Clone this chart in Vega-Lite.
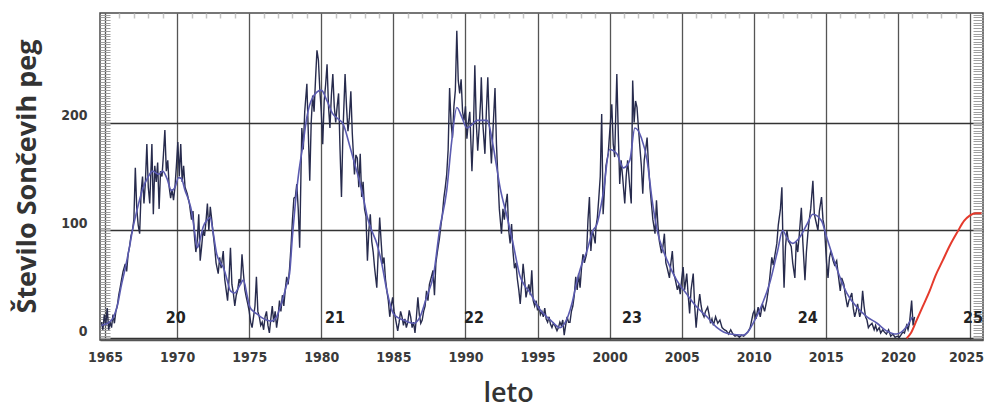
{
"$schema":"https://vega.github.io/schema/vega-lite/v6.json",
"width":883,"height":327,
"autosize":"none",
"padding":{"left":100,"top":13,"right":3,"bottom":68},
"background":"white",
"config":{"view":{"stroke":"#4a4a4a","strokeWidth":1.5}},
"resolve":{"axis":{"x":"independent","y":"independent"}},
"layer":[
{"data":{"values":[
{"year":1964.75,"value":15},{"year":1964.85,"value":8},{"year":1964.95,"value":22},{"year":1965.05,"value":12},{"year":1965.15,"value":28},{"year":1965.25,"value":8},{"year":1965.35,"value":15},{"year":1965.45,"value":10},{"year":1965.55,"value":22},{"year":1965.65,"value":14},{"year":1965.75,"value":25},{"year":1965.85,"value":30},{"year":1965.95,"value":40},{"year":1966.05,"value":47},{"year":1966.15,"value":55},{"year":1966.25,"value":62},{"year":1966.4,"value":69},{"year":1966.5,"value":62},{"year":1966.6,"value":78},{"year":1966.7,"value":85},{"year":1966.8,"value":95},{"year":1966.9,"value":100},{"year":1967.0,"value":110},{"year":1967.1,"value":158},{"year":1967.2,"value":120},{"year":1967.3,"value":105},{"year":1967.4,"value":97},{"year":1967.5,"value":135},{"year":1967.6,"value":150},{"year":1967.7,"value":125},{"year":1967.8,"value":145},{"year":1967.9,"value":180},{"year":1968.0,"value":140},{"year":1968.1,"value":125},{"year":1968.25,"value":180},{"year":1968.35,"value":115},{"year":1968.45,"value":160},{"year":1968.55,"value":145},{"year":1968.65,"value":163},{"year":1968.75,"value":120},{"year":1968.85,"value":155},{"year":1968.95,"value":150},{"year":1969.05,"value":170},{"year":1969.15,"value":193},{"year":1969.25,"value":155},{"year":1969.35,"value":165},{"year":1969.45,"value":140},{"year":1969.55,"value":130},{"year":1969.65,"value":138},{"year":1969.75,"value":128},{"year":1969.85,"value":140},{"year":1969.95,"value":160},{"year":1970.05,"value":182},{"year":1970.15,"value":150},{"year":1970.25,"value":180},{"year":1970.35,"value":145},{"year":1970.45,"value":160},{"year":1970.55,"value":140},{"year":1970.7,"value":134},{"year":1970.85,"value":125},{"year":1971.0,"value":110},{"year":1971.1,"value":118},{"year":1971.2,"value":95},{"year":1971.3,"value":80},{"year":1971.4,"value":91},{"year":1971.5,"value":115},{"year":1971.6,"value":72},{"year":1971.7,"value":85},{"year":1971.8,"value":100},{"year":1971.9,"value":95},{"year":1972.0,"value":108},{"year":1972.1,"value":125},{"year":1972.2,"value":100},{"year":1972.3,"value":122},{"year":1972.4,"value":110},{"year":1972.5,"value":97},{"year":1972.6,"value":85},{"year":1972.7,"value":70},{"year":1972.85,"value":60},{"year":1972.95,"value":75},{"year":1973.05,"value":65},{"year":1973.2,"value":81},{"year":1973.3,"value":55},{"year":1973.4,"value":45},{"year":1973.5,"value":35},{"year":1973.6,"value":55},{"year":1973.7,"value":84},{"year":1973.8,"value":50},{"year":1973.9,"value":42},{"year":1974.0,"value":30},{"year":1974.1,"value":40},{"year":1974.2,"value":45},{"year":1974.3,"value":55},{"year":1974.4,"value":50},{"year":1974.5,"value":78},{"year":1974.6,"value":60},{"year":1974.7,"value":45},{"year":1974.8,"value":38},{"year":1974.9,"value":32},{"year":1975.0,"value":25},{"year":1975.1,"value":15},{"year":1975.2,"value":10},{"year":1975.3,"value":20},{"year":1975.4,"value":30},{"year":1975.5,"value":57},{"year":1975.6,"value":25},{"year":1975.7,"value":20},{"year":1975.8,"value":12},{"year":1975.9,"value":15},{"year":1976.0,"value":8},{"year":1976.1,"value":20},{"year":1976.2,"value":25},{"year":1976.3,"value":12},{"year":1976.4,"value":5},{"year":1976.5,"value":18},{"year":1976.6,"value":30},{"year":1976.7,"value":15},{"year":1976.8,"value":25},{"year":1976.9,"value":10},{"year":1977.0,"value":20},{"year":1977.1,"value":35},{"year":1977.2,"value":25},{"year":1977.3,"value":40},{"year":1977.4,"value":30},{"year":1977.5,"value":45},{"year":1977.6,"value":57},{"year":1977.7,"value":50},{"year":1977.8,"value":65},{"year":1977.9,"value":85},{"year":1978.0,"value":110},{"year":1978.1,"value":130},{"year":1978.2,"value":131},{"year":1978.3,"value":143},{"year":1978.4,"value":120},{"year":1978.5,"value":84},{"year":1978.6,"value":160},{"year":1978.65,"value":195},{"year":1978.75,"value":175},{"year":1978.85,"value":210},{"year":1979.0,"value":236},{"year":1979.1,"value":190},{"year":1979.2,"value":146},{"year":1979.3,"value":200},{"year":1979.4,"value":225},{"year":1979.5,"value":210},{"year":1979.6,"value":240},{"year":1979.7,"value":267},{"year":1979.8,"value":258},{"year":1979.9,"value":230},{"year":1980.0,"value":210},{"year":1980.1,"value":180},{"year":1980.2,"value":220},{"year":1980.3,"value":235},{"year":1980.4,"value":254},{"year":1980.5,"value":215},{"year":1980.6,"value":195},{"year":1980.7,"value":225},{"year":1980.8,"value":245},{"year":1980.9,"value":215},{"year":1981.0,"value":200},{"year":1981.1,"value":215},{"year":1981.2,"value":227},{"year":1981.3,"value":175},{"year":1981.4,"value":131},{"year":1981.5,"value":190},{"year":1981.65,"value":245},{"year":1981.75,"value":215},{"year":1981.85,"value":192},{"year":1981.95,"value":205},{"year":1982.05,"value":229},{"year":1982.15,"value":190},{"year":1982.3,"value":152},{"year":1982.4,"value":170},{"year":1982.5,"value":167},{"year":1982.6,"value":140},{"year":1982.7,"value":171},{"year":1982.8,"value":131},{"year":1982.9,"value":145},{"year":1983.0,"value":120},{"year":1983.1,"value":113},{"year":1983.2,"value":72},{"year":1983.3,"value":100},{"year":1983.4,"value":115},{"year":1983.5,"value":90},{"year":1983.6,"value":80},{"year":1983.7,"value":65},{"year":1983.85,"value":47},{"year":1983.95,"value":80},{"year":1984.05,"value":112},{"year":1984.15,"value":90},{"year":1984.25,"value":69},{"year":1984.35,"value":75},{"year":1984.45,"value":55},{"year":1984.55,"value":44},{"year":1984.65,"value":35},{"year":1984.75,"value":20},{"year":1984.85,"value":30},{"year":1984.95,"value":38},{"year":1985.05,"value":25},{"year":1985.15,"value":18},{"year":1985.3,"value":7},{"year":1985.4,"value":15},{"year":1985.5,"value":25},{"year":1985.6,"value":20},{"year":1985.7,"value":12},{"year":1985.8,"value":18},{"year":1985.9,"value":10},{"year":1986.0,"value":15},{"year":1986.1,"value":26},{"year":1986.2,"value":20},{"year":1986.3,"value":10},{"year":1986.4,"value":15},{"year":1986.5,"value":5},{"year":1986.6,"value":20},{"year":1986.7,"value":38},{"year":1986.8,"value":22},{"year":1986.9,"value":14},{"year":1987.0,"value":17},{"year":1987.1,"value":25},{"year":1987.2,"value":30},{"year":1987.3,"value":44},{"year":1987.4,"value":35},{"year":1987.5,"value":50},{"year":1987.6,"value":55},{"year":1987.75,"value":63},{"year":1987.85,"value":40},{"year":1987.95,"value":70},{"year":1988.05,"value":80},{"year":1988.2,"value":93},{"year":1988.3,"value":105},{"year":1988.4,"value":115},{"year":1988.5,"value":130},{"year":1988.6,"value":140},{"year":1988.7,"value":152},{"year":1988.8,"value":175},{"year":1988.9,"value":232},{"year":1989.0,"value":200},{"year":1989.1,"value":186},{"year":1989.2,"value":215},{"year":1989.3,"value":230},{"year":1989.4,"value":285},{"year":1989.5,"value":239},{"year":1989.6,"value":227},{"year":1989.7,"value":240},{"year":1989.8,"value":210},{"year":1989.9,"value":202},{"year":1990.0,"value":215},{"year":1990.1,"value":185},{"year":1990.2,"value":200},{"year":1990.3,"value":210},{"year":1990.45,"value":155},{"year":1990.55,"value":190},{"year":1990.65,"value":253},{"year":1990.75,"value":200},{"year":1990.85,"value":174},{"year":1990.95,"value":195},{"year":1991.05,"value":220},{"year":1991.1,"value":242},{"year":1991.2,"value":200},{"year":1991.35,"value":171},{"year":1991.45,"value":210},{"year":1991.55,"value":242},{"year":1991.65,"value":200},{"year":1991.8,"value":162},{"year":1991.9,"value":190},{"year":1992.05,"value":232},{"year":1992.15,"value":180},{"year":1992.25,"value":149},{"year":1992.35,"value":120},{"year":1992.5,"value":97},{"year":1992.6,"value":120},{"year":1992.7,"value":110},{"year":1992.8,"value":125},{"year":1992.9,"value":134},{"year":1993.0,"value":100},{"year":1993.1,"value":88},{"year":1993.2,"value":106},{"year":1993.3,"value":80},{"year":1993.4,"value":65},{"year":1993.5,"value":70},{"year":1993.6,"value":55},{"year":1993.7,"value":45},{"year":1993.8,"value":32},{"year":1993.9,"value":50},{"year":1994.0,"value":69},{"year":1994.1,"value":55},{"year":1994.2,"value":38},{"year":1994.3,"value":45},{"year":1994.4,"value":50},{"year":1994.5,"value":40},{"year":1994.6,"value":63},{"year":1994.7,"value":35},{"year":1994.8,"value":30},{"year":1994.9,"value":35},{"year":1995.0,"value":26},{"year":1995.1,"value":30},{"year":1995.2,"value":22},{"year":1995.3,"value":25},{"year":1995.4,"value":20},{"year":1995.5,"value":28},{"year":1995.6,"value":18},{"year":1995.7,"value":15},{"year":1995.8,"value":20},{"year":1995.9,"value":13},{"year":1996.0,"value":10},{"year":1996.1,"value":14},{"year":1996.2,"value":12},{"year":1996.35,"value":7},{"year":1996.45,"value":10},{"year":1996.55,"value":15},{"year":1996.65,"value":12},{"year":1996.75,"value":17},{"year":1996.85,"value":3},{"year":1996.95,"value":12},{"year":1997.05,"value":20},{"year":1997.15,"value":15},{"year":1997.25,"value":15},{"year":1997.35,"value":25},{"year":1997.45,"value":30},{"year":1997.55,"value":40},{"year":1997.65,"value":57},{"year":1997.75,"value":45},{"year":1997.85,"value":60},{"year":1997.95,"value":47},{"year":1998.05,"value":65},{"year":1998.15,"value":78},{"year":1998.25,"value":70},{"year":1998.4,"value":78},{"year":1998.5,"value":110},{"year":1998.6,"value":131},{"year":1998.7,"value":81},{"year":1998.8,"value":100},{"year":1998.9,"value":95},{"year":1999.0,"value":88},{"year":1999.05,"value":103},{"year":1999.15,"value":112},{"year":1999.25,"value":130},{"year":1999.35,"value":150},{"year":1999.45,"value":208},{"year":1999.55,"value":115},{"year":1999.65,"value":140},{"year":1999.75,"value":160},{"year":1999.9,"value":171},{"year":2000.0,"value":190},{"year":2000.15,"value":217},{"year":2000.25,"value":180},{"year":2000.35,"value":168},{"year":2000.5,"value":245},{"year":2000.6,"value":190},{"year":2000.7,"value":143},{"year":2000.8,"value":165},{"year":2000.9,"value":150},{"year":2001.05,"value":125},{"year":2001.15,"value":150},{"year":2001.25,"value":165},{"year":2001.4,"value":140},{"year":2001.5,"value":125},{"year":2001.6,"value":239},{"year":2001.7,"value":200},{"year":2001.8,"value":220},{"year":2001.9,"value":214},{"year":2002.0,"value":195},{"year":2002.1,"value":177},{"year":2002.2,"value":160},{"year":2002.3,"value":134},{"year":2002.4,"value":165},{"year":2002.5,"value":175},{"year":2002.6,"value":186},{"year":2002.7,"value":160},{"year":2002.8,"value":140},{"year":2002.9,"value":125},{"year":2003.0,"value":110},{"year":2003.15,"value":97},{"year":2003.25,"value":128},{"year":2003.35,"value":105},{"year":2003.45,"value":90},{"year":2003.6,"value":79},{"year":2003.7,"value":85},{"year":2003.8,"value":97},{"year":2003.9,"value":70},{"year":2004.0,"value":65},{"year":2004.15,"value":56},{"year":2004.25,"value":70},{"year":2004.35,"value":81},{"year":2004.45,"value":60},{"year":2004.55,"value":55},{"year":2004.7,"value":45},{"year":2004.8,"value":50},{"year":2004.9,"value":41},{"year":2005.0,"value":55},{"year":2005.1,"value":66},{"year":2005.2,"value":45},{"year":2005.35,"value":60},{"year":2005.45,"value":40},{"year":2005.55,"value":23},{"year":2005.65,"value":45},{"year":2005.8,"value":60},{"year":2005.9,"value":30},{"year":2006.0,"value":10},{"year":2006.1,"value":25},{"year":2006.25,"value":41},{"year":2006.35,"value":30},{"year":2006.45,"value":23},{"year":2006.55,"value":20},{"year":2006.65,"value":25},{"year":2006.8,"value":29},{"year":2006.9,"value":22},{"year":2007.0,"value":14},{"year":2007.1,"value":18},{"year":2007.2,"value":12},{"year":2007.35,"value":20},{"year":2007.5,"value":14},{"year":2007.65,"value":17},{"year":2007.8,"value":10},{"year":2007.95,"value":8},{"year":2008.1,"value":7},{"year":2008.25,"value":4},{"year":2008.4,"value":8},{"year":2008.55,"value":4},{"year":2008.7,"value":2},{"year":2008.85,"value":3},{"year":2009.0,"value":1},{"year":2009.15,"value":3},{"year":2009.3,"value":2},{"year":2009.45,"value":4},{"year":2009.6,"value":6},{"year":2009.75,"value":10},{"year":2009.95,"value":23},{"year":2010.05,"value":26},{"year":2010.15,"value":18},{"year":2010.3,"value":29},{"year":2010.45,"value":20},{"year":2010.6,"value":32},{"year":2010.75,"value":25},{"year":2010.9,"value":35},{"year":2011.0,"value":44},{"year":2011.1,"value":55},{"year":2011.25,"value":75},{"year":2011.35,"value":68},{"year":2011.5,"value":80},{"year":2011.6,"value":88},{"year":2011.7,"value":105},{"year":2011.85,"value":120},{"year":2011.95,"value":140},{"year":2012.05,"value":70},{"year":2012.1,"value":47},{"year":2012.2,"value":85},{"year":2012.3,"value":100},{"year":2012.4,"value":90},{"year":2012.5,"value":88},{"year":2012.6,"value":85},{"year":2012.7,"value":70},{"year":2012.85,"value":56},{"year":2012.95,"value":90},{"year":2013.05,"value":80},{"year":2013.15,"value":95},{"year":2013.3,"value":121},{"year":2013.4,"value":90},{"year":2013.55,"value":54},{"year":2013.65,"value":80},{"year":2013.75,"value":97},{"year":2013.85,"value":110},{"year":2013.95,"value":120},{"year":2014.1,"value":146},{"year":2014.2,"value":115},{"year":2014.3,"value":109},{"year":2014.45,"value":100},{"year":2014.55,"value":118},{"year":2014.7,"value":131},{"year":2014.8,"value":110},{"year":2014.9,"value":103},{"year":2015.05,"value":70},{"year":2015.15,"value":56},{"year":2015.25,"value":75},{"year":2015.35,"value":81},{"year":2015.5,"value":72},{"year":2015.6,"value":68},{"year":2015.75,"value":72},{"year":2015.85,"value":60},{"year":2016.0,"value":44},{"year":2016.1,"value":56},{"year":2016.25,"value":50},{"year":2016.35,"value":40},{"year":2016.5,"value":29},{"year":2016.6,"value":35},{"year":2016.8,"value":42},{"year":2016.9,"value":28},{"year":2017.0,"value":20},{"year":2017.1,"value":25},{"year":2017.2,"value":32},{"year":2017.35,"value":20},{"year":2017.45,"value":25},{"year":2017.55,"value":44},{"year":2017.65,"value":30},{"year":2017.75,"value":20},{"year":2017.85,"value":17},{"year":2017.95,"value":10},{"year":2018.05,"value":12},{"year":2018.2,"value":14},{"year":2018.35,"value":8},{"year":2018.45,"value":12},{"year":2018.55,"value":7},{"year":2018.7,"value":10},{"year":2018.8,"value":5},{"year":2018.95,"value":8},{"year":2019.05,"value":6},{"year":2019.2,"value":4},{"year":2019.35,"value":8},{"year":2019.5,"value":2},{"year":2019.65,"value":4},{"year":2019.8,"value":1},{"year":2019.95,"value":2},{"year":2020.1,"value":1},{"year":2020.2,"value":3},{"year":2020.35,"value":6},{"year":2020.45,"value":5},{"year":2020.6,"value":12},{"year":2020.7,"value":8},{"year":2020.8,"value":14},{"year":2020.95,"value":35},{"year":2021.05,"value":12},{"year":2021.15,"value":20}
]},
"mark":{"type":"line","color":"#272b4d","strokeWidth":1.4,"clip":true},
"encoding":{
"x":{"field":"year","type":"quantitative","scale":{"domain":[1964.65,2025.9],"nice":false,"zero":false},
"axis":{"values":[1965,1970,1975,1980,1985,1990,1995,2000,2005,2010,2015,2020,2025],"format":"d","grid":true,"gridColor":"#555","gridWidth":1.3,"ticks":false,"domainColor":"#555","domainWidth":1.5,"labelFont":"Liberation Sans Narrow, DejaVu Sans Condensed, Roboto","labelFontSize":14,"labelFontWeight":"bold","labelColor":"#3a3a3a","labelPadding":10,"labelFlush":false,"labelOffset":{"condition":{"test":"datum.value == 2025","value":-4},"value":0},"title":"leto","titleFont":"Open Sans","titleFontSize":27,"titleFontWeight":600,"titleColor":"#333","titleX":408,"titleY":53,"titleAlign":"center","titleBaseline":"middle"}},
"y":{"field":"value","type":"quantitative","scale":{"domain":[-1.5,301.5],"nice":false,"zero":false},
"axis":{"values":[0,100,200],"grid":true,"gridColor":"#333","gridWidth":1.5,"ticks":false,"domain":false,"labelFont":"Liberation Sans Narrow, DejaVu Sans Condensed, Roboto","labelFontSize":14,"labelFontWeight":"bold","labelColor":"#3a3a3a","labelPadding":13,"labelOffset":-7,"title":"Število Sončevih peg","titleFont":"Open Sans","titleFontSize":27,"titleFontWeight":"bold","titleColor":"#333","titleX":-73,"titleY":163,"titleAlign":"center","titleBaseline":"middle","titleAngle":-90}}
}},
{"data":{"values":[
{"year":1964.75,"value":12},{"year":1965.0,"value":13},{"year":1965.3,"value":15},{"year":1965.6,"value":20},{"year":1965.9,"value":33},{"year":1966.1,"value":47},{"year":1966.4,"value":65},{"year":1966.7,"value":85},{"year":1966.9,"value":100},{"year":1967.2,"value":118},{"year":1967.6,"value":138},{"year":1968.0,"value":150},{"year":1968.3,"value":155},{"year":1968.7,"value":152},{"year":1969.0,"value":155},{"year":1969.3,"value":148},{"year":1969.6,"value":137},{"year":1969.85,"value":140},{"year":1970.1,"value":149},{"year":1970.3,"value":148},{"year":1970.55,"value":137},{"year":1970.8,"value":128},{"year":1971.0,"value":118},{"year":1971.2,"value":100},{"year":1971.4,"value":84},{"year":1971.6,"value":92},{"year":1971.8,"value":103},{"year":1972.1,"value":110},{"year":1972.3,"value":112},{"year":1972.5,"value":98},{"year":1972.75,"value":78},{"year":1973.0,"value":70},{"year":1973.2,"value":66},{"year":1973.45,"value":55},{"year":1973.7,"value":44},{"year":1974.0,"value":42},{"year":1974.3,"value":48},{"year":1974.6,"value":54},{"year":1974.85,"value":40},{"year":1975.05,"value":29},{"year":1975.3,"value":25},{"year":1975.6,"value":22},{"year":1975.9,"value":19},{"year":1976.2,"value":17},{"year":1976.5,"value":16},{"year":1976.9,"value":20},{"year":1977.1,"value":27},{"year":1977.3,"value":35},{"year":1977.6,"value":50},{"year":1977.8,"value":60},{"year":1978.0,"value":95},{"year":1978.2,"value":125},{"year":1978.45,"value":155},{"year":1978.7,"value":177},{"year":1979.0,"value":205},{"year":1979.4,"value":223},{"year":1980.0,"value":230},{"year":1980.4,"value":220},{"year":1980.8,"value":208},{"year":1981.2,"value":203},{"year":1981.5,"value":199},{"year":1982.0,"value":177},{"year":1982.35,"value":160},{"year":1982.7,"value":143},{"year":1983.0,"value":125},{"year":1983.2,"value":112},{"year":1983.5,"value":100},{"year":1983.85,"value":88},{"year":1984.2,"value":69},{"year":1984.55,"value":44},{"year":1985.0,"value":23},{"year":1985.35,"value":19},{"year":1985.7,"value":17},{"year":1986.05,"value":15},{"year":1986.4,"value":14},{"year":1986.85,"value":20},{"year":1987.3,"value":38},{"year":1987.8,"value":60},{"year":1988.2,"value":100},{"year":1988.7,"value":137},{"year":1989.05,"value":183},{"year":1989.4,"value":214},{"year":1989.75,"value":205},{"year":1990.1,"value":195},{"year":1990.45,"value":198},{"year":1990.8,"value":202},{"year":1991.5,"value":202},{"year":1991.9,"value":180},{"year":1992.15,"value":160},{"year":1992.4,"value":140},{"year":1992.9,"value":112},{"year":1993.3,"value":88},{"year":1993.8,"value":57},{"year":1994.15,"value":48},{"year":1994.5,"value":42},{"year":1994.85,"value":33},{"year":1995.2,"value":26},{"year":1995.9,"value":17},{"year":1996.55,"value":10},{"year":1997.1,"value":20},{"year":1997.4,"value":33},{"year":1997.7,"value":51},{"year":1998.05,"value":68},{"year":1998.4,"value":80},{"year":1998.85,"value":100},{"year":1999.1,"value":105},{"year":1999.55,"value":134},{"year":2000.0,"value":175},{"year":2000.5,"value":171},{"year":2000.95,"value":158},{"year":2001.4,"value":165},{"year":2001.75,"value":195},{"year":2002.2,"value":186},{"year":2002.6,"value":165},{"year":2002.95,"value":128},{"year":2003.35,"value":97},{"year":2003.7,"value":82},{"year":2004.0,"value":72},{"year":2004.65,"value":54},{"year":2005.35,"value":41},{"year":2006.05,"value":29},{"year":2006.75,"value":20},{"year":2007.45,"value":10},{"year":2008.35,"value":4},{"year":2009.25,"value":3},{"year":2009.7,"value":8},{"year":2009.95,"value":14},{"year":2010.4,"value":26},{"year":2011.1,"value":51},{"year":2011.65,"value":81},{"year":2012.0,"value":100},{"year":2012.35,"value":92},{"year":2012.7,"value":88},{"year":2013.2,"value":94},{"year":2013.7,"value":106},{"year":2014.1,"value":115},{"year":2014.7,"value":109},{"year":2015.05,"value":94},{"year":2015.5,"value":75},{"year":2016.0,"value":56},{"year":2016.45,"value":42},{"year":2017.15,"value":29},{"year":2017.85,"value":20},{"year":2018.55,"value":14},{"year":2019.2,"value":7},{"year":2019.9,"value":4},{"year":2020.55,"value":10},{"year":2021.0,"value":20}
]},
"mark":{"type":"line","color":"#5b5bb0","strokeWidth":1.6,"interpolate":"monotone","clip":true},
"encoding":{
"x":{"field":"year","type":"quantitative","scale":{"domain":[1964.65,2025.9],"nice":false,"zero":false},
"axis":{"values":[1966,1967,1968,1969,1971,1972,1973,1974,1976,1977,1978,1979,1981,1982,1983,1984,1986,1987,1988,1989,1991,1992,1993,1994,1996,1997,1998,1999,2001,2002,2003,2004,2006,2007,2008,2009,2011,2012,2013,2014,2016,2017,2018,2019,2021,2022,2023,2024],"grid":false,"labels":false,"domain":false,"ticks":true,"tickSize":-5,"tickColor":"#c4c4c4","tickWidth":1.5,"title":null}},
"y":{"field":"value","type":"quantitative","scale":{"domain":[-1.5,301.5],"nice":false,"zero":false},
"axis":{"orient":"left","values":[0,2.5,5,7.5,10,12.5,15,17.5,20,22.5,25,27.5,30,32.5,35,37.5,40,42.5,45,47.5,50,52.5,55,57.5,60,62.5,65,67.5,70,72.5,75,77.5,80,82.5,85,87.5,90,92.5,95,97.5,100,102.5,105,107.5,110,112.5,115,117.5,120,122.5,125,127.5,130,132.5,135,137.5,140,142.5,145,147.5,150,152.5,155,157.5,160,162.5,165,167.5,170,172.5,175,177.5,180,182.5,185,187.5,190,192.5,195,197.5,200,202.5,205,207.5,210,212.5,215,217.5,220,222.5,225,227.5,230,232.5,235,237.5,240,242.5,245,247.5,250,252.5,255,257.5,260,262.5,265,267.5,270,272.5,275,277.5,280,282.5,285,287.5,290,292.5,295,297.5,300],"grid":false,"labels":false,"domain":false,"ticks":true,"tickSize":-10,"tickColor":"#a0a0a0","tickWidth":1,"title":null}}
}},
{"data":{"values":[
{"year":2020.6,"value":0},{"year":2020.9,"value":5},{"year":2021.3,"value":17},{"year":2021.7,"value":29},{"year":2022.2,"value":44},{"year":2022.6,"value":58},{"year":2023.1,"value":72},{"year":2023.6,"value":86},{"year":2024.1,"value":98},{"year":2024.6,"value":109},{"year":2025.0,"value":114},{"year":2025.4,"value":116},{"year":2025.8,"value":116}
]},
"mark":{"type":"line","color":"#e53a2c","strokeWidth":2,"interpolate":"monotone","clip":true},
"encoding":{
"x":{"field":"year","type":"quantitative","scale":{"domain":[1964.65,2025.9],"nice":false,"zero":false},"axis":null},
"y":{"field":"value","type":"quantitative","scale":{"domain":[-1.5,301.5],"nice":false,"zero":false},
"axis":{"orient":"right","values":[0,2.5,5,7.5,10,12.5,15,17.5,20,22.5,25,27.5,30,32.5,35,37.5,40,42.5,45,47.5,50,52.5,55,57.5,60,62.5,65,67.5,70,72.5,75,77.5,80,82.5,85,87.5,90,92.5,95,97.5,100,102.5,105,107.5,110,112.5,115,117.5,120,122.5,125,127.5,130,132.5,135,137.5,140,142.5,145,147.5,150,152.5,155,157.5,160,162.5,165,167.5,170,172.5,175,177.5,180,182.5,185,187.5,190,192.5,195,197.5,200,202.5,205,207.5,210,212.5,215,217.5,220,222.5,225,227.5,230,232.5,235,237.5,240,242.5,245,247.5,250,252.5,255,257.5,260,262.5,265,267.5,270,272.5,275,277.5,280,282.5,285,287.5,290,292.5,295,297.5,300],"grid":false,"labels":false,"domain":false,"ticks":true,"tickSize":-10,"tickColor":"#a0a0a0","tickWidth":1,"title":null}}
}},
{"data":{"values":[
{"year":1969.9,"value":18.5,"label":"20"},{"year":1980.95,"value":18.5,"label":"21"},{"year":1990.6,"value":18.5,"label":"22"},{"year":2001.55,"value":18.5,"label":"23"},{"year":2013.75,"value":18.5,"label":"24"},{"year":2025.2,"value":18.5,"label":"25"}
]},
"mark":{"type":"text","font":"Liberation Sans Narrow, DejaVu Sans Condensed, Roboto","fontSize":16,"fontWeight":"bold","color":"#222","align":"center","baseline":"middle"},
"encoding":{
"x":{"field":"year","type":"quantitative","scale":{"domain":[1964.65,2025.9],"nice":false,"zero":false},"axis":null},
"y":{"field":"value","type":"quantitative","scale":{"domain":[-1.5,301.5],"nice":false,"zero":false},"axis":null},
"text":{"field":"label"}
}}
]
}
